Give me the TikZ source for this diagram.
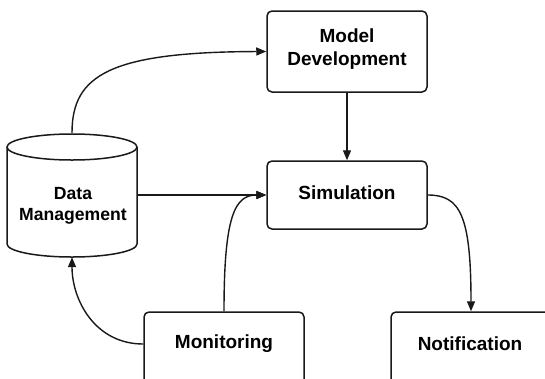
\documentclass[tikz,border=0pt]{standalone}
\usepackage{fontspec}
\setmainfont{Liberation Sans}
\usetikzlibrary{arrows.meta}
\begin{document}
\begin{tikzpicture}[x=1pt,y=-1pt,
  box/.style={draw=black!90, line width=1.5pt, rounded corners=5pt, fill=white,
    inner sep=0pt, minimum width=160pt},
  lbl/.style={font=\bfseries\fontsize{19}{23}\selectfont, align=center, inner sep=0pt},
  link/.style={draw=black!90, line width=1.4pt, -{Triangle[length=10pt,width=8pt]}}]
\useasboundingbox (0,0) rectangle (545,378);

% data store drawn as a cylinder
\draw[draw=black!90, line width=1.5pt, fill=white]
  (7,147) -- (7,244)
  .. controls (7,251.2) and (36.1,257) .. (72,257)
  .. controls (107.9,257) and (137,251.2) .. (137,244) -- (137,147);
\draw[draw=black!90, line width=1.5pt, fill=white] (72,147) ellipse[x radius=65, y radius=13];
\node[minimum width=130pt, minimum height=124pt, inner sep=0pt] (dm) at (72,195) {};
\node[lbl, font=\bfseries\fontsize{17.6}{21}\selectfont] (dmT) at (73,206) {Data\\Management};

% process boxes
\node[box, minimum height=81pt] (md) at (347,51.5) {};
\node[lbl] (mdT) at (347,49.5) {Model\\Development};
\node[box, minimum height=68pt] (sim) at (347,195) {};
\node[lbl] (simT) at (347,193) {Simulation};
\node[box, minimum height=88pt] (mon) at (224,356) {};
\node[lbl] (monT) at (224,344) {Monitoring};
\node[box, minimum height=88pt] (notif) at (471,356) {};
\node[lbl] (notifT) at (470,344) {Notification};

% connectors
\draw[link] (dm.north) .. controls (72,75) and (110,52) .. (md.west);
\draw[link] (md.south) -- (sim.north);
\draw[link] (dm.east) -- (sim.west);
\draw[link] (mon.north) .. controls (224,215) and (235,195) .. (sim.west);
\draw[link] (sim.east) .. controls (460,195) and (471,215) .. (notif.north);
\draw[link] ([yshift=12pt]mon.west) .. controls (95,344) and (72,300) .. (dm.south);
\end{tikzpicture}
\end{document}
